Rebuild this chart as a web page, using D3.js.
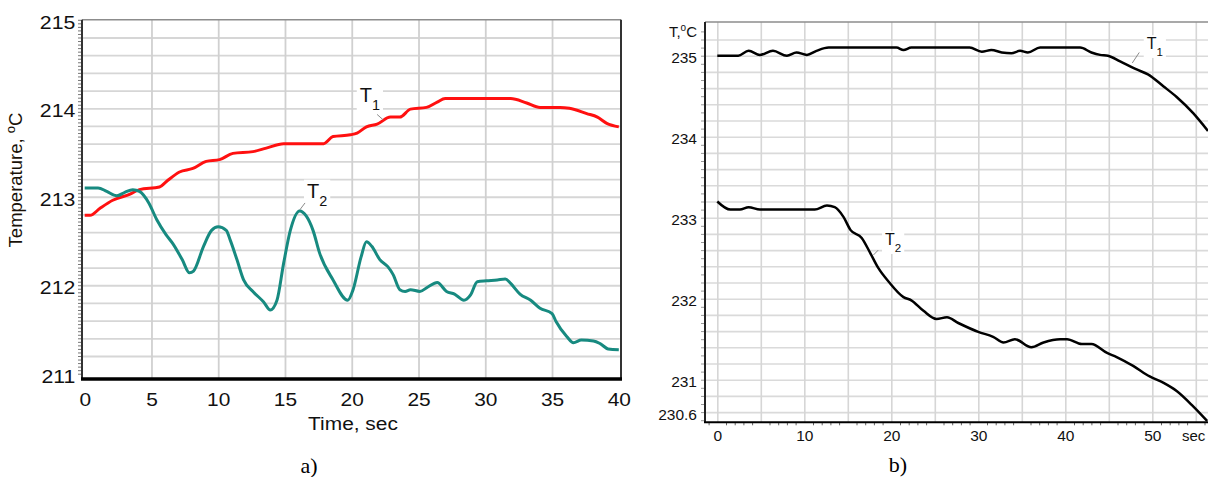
<!DOCTYPE html>
<html>
<head>
<meta charset="utf-8">
<script src="https://cdn.jsdelivr.net/npm/d3@7"></script>
<style>
  body { margin: 0; background: #fff; }
</style>
</head>
<body>
<div id="wrapper"></div>
<script>
// panel a) readings, seconds / degrees C
var secA1 = [0, 0.4, 1.15, 2.1, 3.4, 4.1, 5.6, 6.1, 7.1, 8.1, 9.1, 10.1, 11.1, 12.6, 13.6, 14.9, 17.9, 18.6, 19.9, 20.4, 21.1, 21.9, 22.9, 23.6, 24.4, 25.6, 26.4, 27.0, 31.9, 33.1, 34.1, 35.6, 36.3, 37.6, 38.4, 39.1, 40]
var tempA1 = [212.79, 212.79, 212.87, 212.96, 213.03, 213.08, 213.11, 213.17, 213.28, 213.32, 213.40, 213.42, 213.49, 213.51, 213.55, 213.60, 213.60, 213.68, 213.70, 213.72, 213.79, 213.82, 213.90, 213.90, 213.99, 214.01, 214.07, 214.11, 214.11, 214.06, 214.01, 214.01, 214.00, 213.94, 213.90, 213.83, 213.79]

var secA2 = [0, 1.0, 1.65, 2.4, 3.0, 3.6, 4.1, 4.8, 5.4, 6.1, 6.6, 7.3, 7.85, 8.15, 8.9, 9.5, 10.0, 10.6, 10.9, 11.4, 11.9, 12.6, 13.4, 13.9, 14.4, 14.9, 15.4, 16.1, 16.6, 17.1, 17.6, 18.6, 19.7, 20.1, 20.7, 21.1, 21.5, 22.1, 22.7, 23.1, 23.6, 24.0, 24.4, 25.1, 25.7, 26.4, 27.1, 27.7, 28.4, 28.9, 29.4, 30.1, 30.9, 31.5, 31.9, 32.6, 33.4, 34.1, 35.0, 35.3, 36.1, 36.6, 37.2, 38.1, 38.6, 39.2, 40]
var tempA2 = [213.10, 213.10, 213.06, 213.01, 213.05, 213.08, 213.06, 212.93, 212.74, 212.57, 212.47, 212.29, 212.14, 212.16, 212.44, 212.62, 212.66, 212.62, 212.51, 212.29, 212.06, 211.93, 211.81, 211.72, 211.83, 212.25, 212.62, 212.84, 212.78, 212.62, 212.36, 212.06, 211.83, 211.95, 212.32, 212.49, 212.44, 212.29, 212.21, 212.12, 211.95, 211.93, 211.95, 211.93, 211.98, 212.03, 211.93, 211.90, 211.83, 211.89, 212.04, 212.05, 212.06, 212.07, 212.02, 211.90, 211.83, 211.74, 211.68, 211.59, 211.42, 211.35, 211.38, 211.37, 211.34, 211.28, 211.27]

// panel b) readings
var secB1 = [0, 2.4, 3.6, 4.9, 6.4, 8.0, 9.1, 10.3, 11.4, 12.8, 20.6, 21.4, 22.3, 29.0, 30.4, 31.5, 32.7, 33.8, 34.8, 35.7, 37.1, 41.7, 43.0, 44.0, 44.9, 46.3, 48.2, 49.5, 51.3, 52.8, 54.7, 56.4]
var tempB1 = [235.0, 235.0, 235.06, 235.01, 235.06, 235.0, 235.04, 235.01, 235.06, 235.10, 235.10, 235.07, 235.10, 235.10, 235.05, 235.07, 235.04, 235.03, 235.06, 235.04, 235.10, 235.10, 235.04, 235.01, 235.0, 234.93, 234.83, 234.77, 234.62, 234.49, 234.29, 234.07]

var secB2 = [0, 1.5, 2.6, 3.6, 4.9, 11.2, 12.6, 13.5, 14.5, 15.3, 16.6, 17.6, 18.5, 19.7, 21.4, 22.3, 23.7, 25.2, 26.4, 27.7, 30.0, 31.7, 32.9, 34.2, 36.1, 37.5, 39.4, 40.2, 41.9, 43.0, 44.8, 45.9, 47.8, 49.7, 51.3, 52.8, 54.7, 56.3]
var tempB2 = [233.20, 233.10, 233.10, 233.13, 233.10, 233.10, 233.15, 233.13, 233.01, 232.85, 232.75, 232.56, 232.38, 232.21, 232.02, 231.98, 231.85, 231.75, 231.77, 231.70, 231.59, 231.53, 231.46, 231.50, 231.40, 231.46, 231.50, 231.50, 231.44, 231.44, 231.33, 231.28, 231.17, 231.04, 230.96, 230.86, 230.67, 230.49]

// tick labels
var xTicksA = [0, 5, 10, 15, 20, 25, 30, 35, 40]
var yTicksA = [211, 212, 213, 214, 215]
var xTicksB = [0, 10, 20, 30, 40, 50]
var yTicksB = [230.6, 231, 232, 233, 234, 235]

var SANS = "Arial, 'Liberation Sans', sans-serif"
var SERIF = "'Liberation Serif', 'Times New Roman', serif"

var svg = d3.select("#wrapper")
    .append("svg")
    .attr("width", 1208)
    .attr("height", 477)
    .attr("font-family", SANS)
    .style("background", "#fff")

function drawLabel(g, x, y, sub, at, lead, size) {
    var lab = g.append("g")
    var txt = lab.append("text")
        .attr("x", x(at[0]))
        .attr("y", y(at[1]))
        .attr("font-size", size)
        .attr("fill", "#111")
    txt.append("tspan").text("T")
    txt.append("tspan").attr("dy", size * 0.42).attr("font-size", size * 0.72).text(sub)
    var b = txt.node().getBBox()
    lab.insert("line", ":first-child")
        .attr("x1", x(lead[0][0])).attr("y1", y(lead[0][1]))
        .attr("x2", x(lead[1][0])).attr("y2", y(lead[1][1]))
        .attr("stroke", "#8a8a8a")
        .attr("stroke-width", 1)
    lab.insert("rect", ":first-child")
        .attr("x", b.x - 3).attr("y", b.y)
        .attr("width", b.width + 6).attr("height", b.height)
        .attr("fill", "#fff")
}

// ---------------- panel a ----------------
var boxA = {left: 82, right: 621, top: 19.8, bottom: 379}
var xA = d3.scaleLinear().domain([0, 40]).range([84.7, 618.8])
var yA = d3.scaleLinear().domain([211, 215]).range([373.7, 19.8])
var gA = svg.append("g")

gA.append("g")
    .attr("transform", `translate(${boxA.left},0)`)
    .call(d3.axisLeft(yA)
        .tickValues(d3.range(1, 20).map(i => 211 + i * 0.2))
        .tickSize(-(boxA.right - boxA.left))
        .tickFormat(""))
    .call(g => g.select(".domain").remove())
    .selectAll("line")
    .attr("stroke", "#d6d6d6")
    .attr("stroke-width", 1.8)

gA.append("g")
    .attr("transform", `translate(0,${boxA.bottom})`)
    .call(d3.axisBottom(xA)
        .tickValues(d3.range(5, 40, 5))
        .tickSize(-(boxA.bottom - boxA.top))
        .tickFormat(""))
    .call(g => g.select(".domain").remove())
    .selectAll("line")
    .attr("stroke", "#d0d0d0")
    .attr("stroke-width", 1.8)

// dense minor ticks on the left axis
gA.append("g")
    .attr("transform", `translate(${boxA.left - 1},0)`)
    .call(d3.axisLeft(yA)
        .tickValues(d3.range(0, 101).map(i => 211 + i * 0.04))
        .tickSize(3)
        .tickFormat(""))
    .call(g => g.select(".domain").remove())
    .selectAll("line")
    .attr("stroke", "#777")
    .attr("stroke-width", 1)

gA.append("line").attr("x1", boxA.left).attr("x2", boxA.right).attr("y1", boxA.top).attr("y2", boxA.top)
    .attr("stroke", "#8c8c8c").attr("stroke-width", 1.5)
gA.append("line").attr("x1", boxA.right).attr("x2", boxA.right).attr("y1", boxA.top).attr("y2", boxA.bottom)
    .attr("stroke", "#333").attr("stroke-width", 2)
gA.append("line").attr("x1", boxA.left).attr("x2", boxA.left).attr("y1", boxA.top).attr("y2", boxA.bottom)
    .attr("stroke", "#333").attr("stroke-width", 2)
gA.append("line").attr("x1", boxA.left - 1).attr("x2", boxA.right + 1).attr("y1", boxA.bottom).attr("y2", boxA.bottom)
    .attr("stroke", "#000").attr("stroke-width", 3.5)

var yLabA = gA.append("g")
    .attr("transform", `translate(${boxA.left},0)`)
    .call(d3.axisLeft(yA).tickValues(yTicksA).tickSize(0).tickPadding(6).tickFormat(d => d))
yLabA.select(".domain").remove()
yLabA.selectAll("text")
    .attr("font-size", 19)
    .attr("font-family", SANS)
    .attr("fill", "#111")
    .attr("dy", "0.45em")
    .attr("transform", "scale(1.12,1)")

var xLabA = gA.append("g")
    .attr("transform", `translate(0,${boxA.bottom})`)
    .call(d3.axisBottom(xA).tickValues(xTicksA).tickSize(0).tickFormat(d => d))
xLabA.select(".domain").remove()
xLabA.selectAll("text")
    .attr("font-size", 19)
    .attr("font-family", SANS)
    .attr("fill", "#111")
    .attr("y", 26.7)
    .attr("dy", 0)
    .attr("transform", "scale(1.1,1)")

var lineA = d3.line()
    .x(d => xA(d[0]))
    .y(d => yA(d[1]))
    .curve(d3.curveMonotoneX)

gA.append("path")
    .datum(d3.zip(secA1, tempA1))
    .attr("d", lineA)
    .attr("fill", "none")
    .attr("stroke", "#ff1010")
    .attr("stroke-width", 3)
    .attr("stroke-linejoin", "round")

gA.append("path")
    .datum(d3.zip(secA2, tempA2))
    .attr("d", lineA)
    .attr("fill", "none")
    .attr("stroke", "#178a80")
    .attr("stroke-width", 3)
    .attr("stroke-linejoin", "round")

drawLabel(gA, xA, yA, "1", [20.6, 214.07], [[21.9, 213.93], [22.35, 213.87]], 20)
drawLabel(gA, xA, yA, "2", [16.65, 212.99], [[16.5, 212.93], [16.1, 212.85]], 20)

gA.append("text")
    .attr("transform", "translate(353,430) scale(1.1,1)")
    .attr("text-anchor", "middle")
    .attr("font-size", 19)
    .attr("fill", "#111")
    .text("Time, sec")

var yTitle = gA.append("text")
    .attr("transform", "translate(22,180) rotate(-90)")
    .attr("text-anchor", "middle")
    .attr("font-size", 18.5)
    .attr("fill", "#1a1208")
yTitle.append("tspan").text("Temperature, ")
yTitle.append("tspan").attr("dy", -7).attr("font-size", 13).text("o")
yTitle.append("tspan").attr("dy", 7).text("C")

svg.append("text")
    .attr("x", 309).attr("y", 473)
    .attr("text-anchor", "middle")
    .attr("font-family", SERIF)
    .attr("font-size", 22)
    .attr("fill", "#000")
    .text("a)")

// ---------------- panel b ----------------
var boxB = {left: 705, right: 1210, top: 22, bottom: 422.3}
var xB = d3.scaleLinear().domain([0, 55]).range([717.3, 1195.8])
var yB = d3.scaleLinear().domain([230.6, 235]).range([412.1, 55.7])
var gB = svg.append("g")

gB.append("g")
    .attr("transform", `translate(${boxB.left},0)`)
    .call(d3.axisLeft(yB)
        .tickValues(d3.range(0, 24).map(i => 230.6 + i * 0.2))
        .tickSize(-(boxB.right - boxB.left))
        .tickFormat(""))
    .call(g => g.select(".domain").remove())
    .selectAll("line")
    .attr("stroke", "#dadada")
    .attr("stroke-width", 1.6)

gB.append("g")
    .attr("transform", `translate(0,${boxB.bottom})`)
    .call(d3.axisBottom(xB)
        .tickValues(d3.range(0, 60, 5))
        .tickSize(-(boxB.bottom - boxB.top))
        .tickFormat(""))
    .call(g => g.select(".domain").remove())
    .selectAll("line")
    .attr("stroke", "#d6d6d6")
    .attr("stroke-width", 1.6)

gB.append("g")
    .attr("transform", `translate(0,${boxB.bottom})`)
    .call(d3.axisBottom(xB)
        .tickValues(d3.range(-1, 57).filter(d => d % 5 != 0))
        .tickSize(3)
        .tickFormat(""))
    .call(g => g.select(".domain").remove())
    .selectAll("line")
    .attr("stroke", "#666")

gB.append("g")
    .attr("transform", `translate(${boxB.left - 1},0)`)
    .call(d3.axisLeft(yB)
        .tickValues(d3.range(0, 49).map(i => 230.5 + i * 0.1))
        .tickSize(3)
        .tickFormat(""))
    .call(g => g.select(".domain").remove())
    .selectAll("line")
    .attr("stroke", "#999")

gB.append("line").attr("x1", boxB.left).attr("x2", boxB.right).attr("y1", boxB.top).attr("y2", boxB.top)
    .attr("stroke", "#8c8c8c").attr("stroke-width", 1.5)
gB.append("line").attr("x1", boxB.left).attr("x2", boxB.left).attr("y1", boxB.top).attr("y2", boxB.bottom)
    .attr("stroke", "#222").attr("stroke-width", 2)
gB.append("line").attr("x1", boxB.left - 1).attr("x2", boxB.right).attr("y1", boxB.bottom).attr("y2", boxB.bottom)
    .attr("stroke", "#000").attr("stroke-width", 2)

var yLabB = gB.append("g")
    .attr("transform", `translate(${boxB.left},0)`)
    .call(d3.axisLeft(yB).tickValues(yTicksB).tickSize(0).tickPadding(8).tickFormat(d => String(d)))
yLabB.select(".domain").remove()
yLabB.selectAll("text")
    .attr("font-size", 15.5)
    .attr("font-family", SANS)
    .attr("fill", "#111")
    .attr("dy", "0.45em")

var xLabB = gB.append("g")
    .attr("transform", `translate(0,${boxB.bottom})`)
    .call(d3.axisBottom(xB).tickValues(xTicksB).tickSize(0).tickFormat(d => d))
xLabB.select(".domain").remove()
xLabB.selectAll("text")
    .attr("font-size", 15.5)
    .attr("font-family", SANS)
    .attr("fill", "#111")
    .attr("y", 18.5)
    .attr("dy", 0)

gB.append("text")
    .attr("x", 1182).attr("y", 441)
    .attr("font-size", 15)
    .attr("fill", "#111")
    .text("sec")

var tUnit = gB.append("text")
    .attr("x", 697).attr("y", 37)
    .attr("text-anchor", "end")
    .attr("font-size", 15)
    .attr("fill", "#111")
tUnit.append("tspan").text("T,")
tUnit.append("tspan").attr("dy", -6).attr("font-size", 10).text("o")
tUnit.append("tspan").attr("dy", 6).text("C")

var lineB = d3.line()
    .x(d => xB(d[0]))
    .y(d => yB(d[1]))
    .curve(d3.curveMonotoneX)

gB.append("path")
    .datum(d3.zip(secB1, tempB1))
    .attr("d", lineB)
    .attr("fill", "none")
    .attr("stroke", "#000")
    .attr("stroke-width", 2.5)
    .attr("stroke-linejoin", "round")

gB.append("path")
    .datum(d3.zip(secB2, tempB2))
    .attr("d", lineB)
    .attr("fill", "none")
    .attr("stroke", "#000")
    .attr("stroke-width", 2.5)
    .attr("stroke-linejoin", "round")

drawLabel(gB, xB, yB, "1", [49.36, 235.08], [[48.5, 235.04], [47.7, 234.91]], 16)
drawLabel(gB, xB, yB, "2", [19.28, 232.66], [[18.5, 232.6], [17.95, 232.54]], 16)

svg.append("text")
    .attr("x", 898).attr("y", 472)
    .attr("text-anchor", "middle")
    .attr("font-family", SERIF)
    .attr("font-size", 22)
    .attr("fill", "#000")
    .text("b)")
</script>
</body>
</html>
